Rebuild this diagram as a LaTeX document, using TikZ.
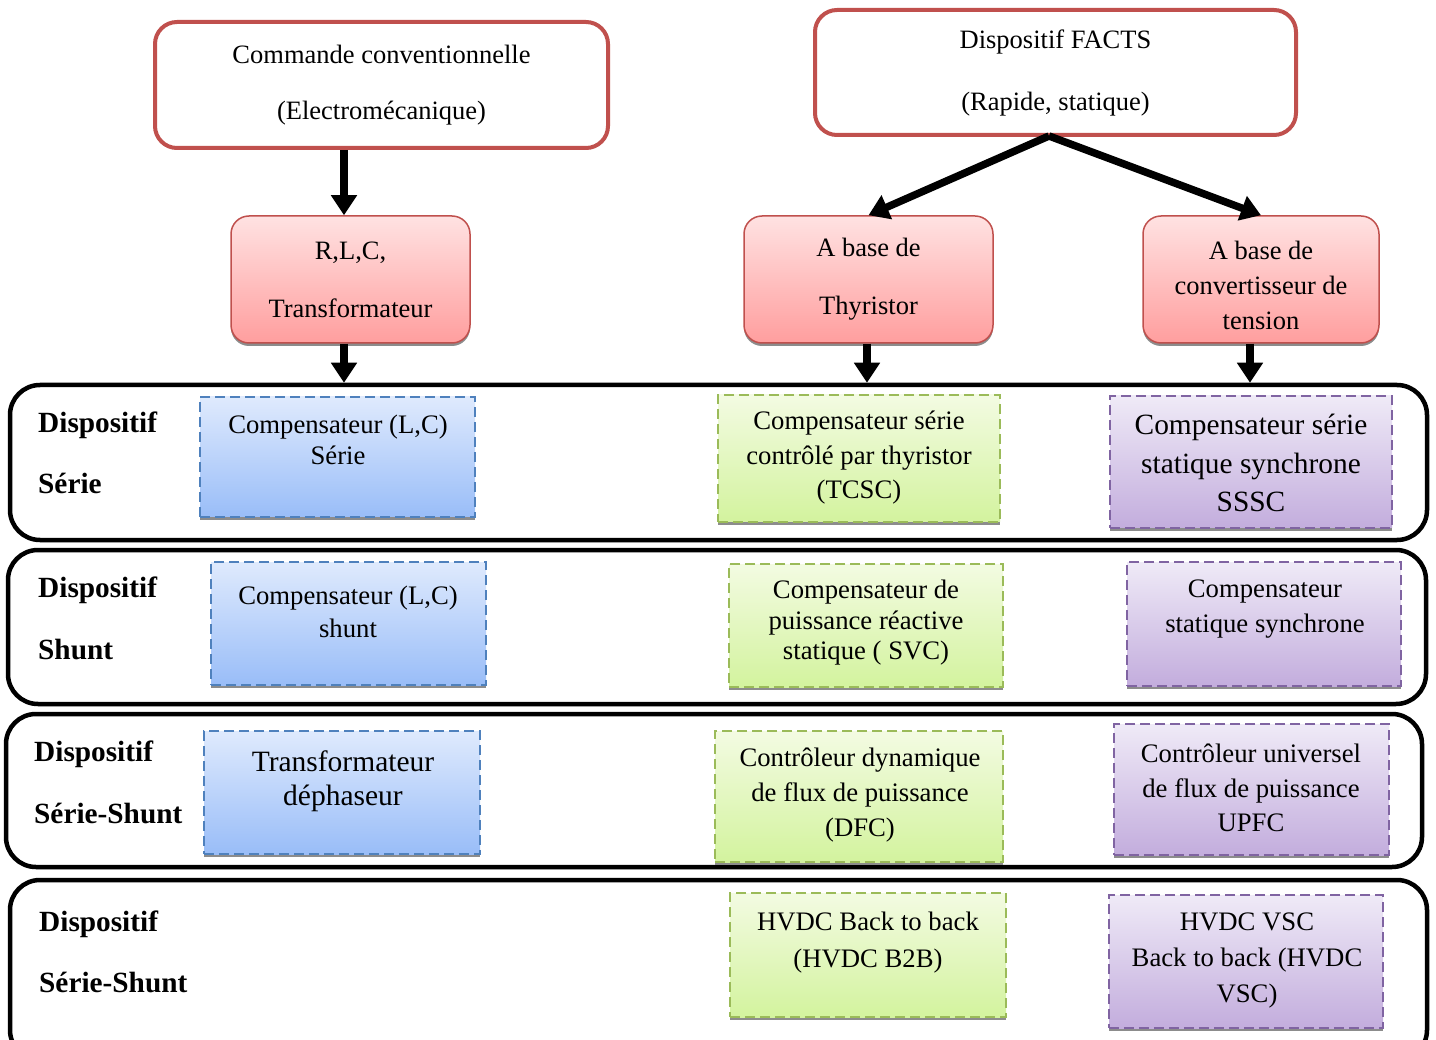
\documentclass[tikz,border=0pt]{standalone}
\usepackage{fontspec}
\setmainfont{Liberation Serif}
\usetikzlibrary{arrows.meta,shadows}

\definecolor{framered}{HTML}{C0504D}
\definecolor{pinktop}{HTML}{FFE2E2}
\definecolor{pinkbot}{HTML}{FF9E9E}
\definecolor{blueline}{HTML}{4F81BD}
\definecolor{bluetop}{HTML}{DFEAFD}
\definecolor{bluebot}{HTML}{99BDF8}
\definecolor{greenline}{HTML}{9BBB59}
\definecolor{greentop}{HTML}{F3FBE2}
\definecolor{greenbot}{HTML}{D3F39E}
\definecolor{purpleline}{HTML}{8064A2}
\definecolor{purpletop}{HTML}{EFEAF7}
\definecolor{purplebot}{HTML}{C3ADDD}

\newcommand{\fsz}[2]{\fontsize{#1}{#2}\selectfont}

\begin{document}
\begin{tikzpicture}[x=1pt,y=-1pt,
  headbox/.style={draw=framered,line width=4pt,rounded corners=22pt,fill=white,
    inner sep=0pt,align=center},
  techbox/.style={draw=framered,line width=1.5pt,rounded corners=18pt,
    top color=pinktop,bottom color=pinkbot,inner sep=0pt,align=center,
    drop shadow={shadow xshift=0pt,shadow yshift=-3pt,fill=black!45,opacity=1}},
  band/.style={draw=black,line width=4.5pt,rounded corners=30pt,fill=white,inner sep=0pt,
    drop shadow={shadow xshift=0pt,shadow yshift=-2pt,fill=black!25,opacity=1}},
  devbox/.style={line width=1.8pt,dash pattern=on 10pt off 5pt,inner sep=0pt,
    drop shadow={shadow xshift=0pt,shadow yshift=-3pt,fill=black!45,opacity=1}},
  bluebox/.style={devbox,draw=blueline,top color=bluetop,bottom color=bluebot},
  greenbox/.style={devbox,draw=greenline,top color=greentop,bottom color=greenbot},
  purplebox/.style={devbox,draw=purpleline,top color=purpletop,bottom color=purplebot},
  devtext/.style={align=center,inner sep=0pt},
  rowlabel/.style={align=left,anchor=west,inner sep=0pt},
  bigarrow/.style={line width=7.5pt,-{Triangle[width=25pt,length=20pt]}}
]
\useasboundingbox (0,0) rectangle (1436,1040);
\clip (0,0) rectangle (1436,1040);
\fill[white] (0,0) rectangle (1436,1040);

% --- top level: the two families of control ---
\node[headbox,minimum width=453pt,minimum height=126pt,font=\fsz{26.5}{56}]
  (cc) at (381.5,85) {Commande conventionnelle\\(Electromécanique)};
\node[headbox,minimum width=481pt,minimum height=125pt,font=\fsz{26.5}{62}]
  (facts) at (1055.5,72.5) {Dispositif FACTS\\(Rapide, statique)};

% --- technologies ---
\node[techbox,minimum width=239pt,minimum height=127pt,font=\fsz{26.5}{58}]
  (rlc) at (350.5,279.5) {R,L,C,\\Transformateur};
\node[techbox,minimum width=249pt,minimum height=127pt,font=\fsz{26.5}{58}]
  (thy) at (868.5,279.5) {A base de\\Thyristor};
\node[techbox,minimum width=236pt,minimum height=127pt] (conv) at (1261,279.5) {};
\node[devtext,font=\fsz{26.5}{35}] (convt) at (1261,285) {A base de\\convertisseur de\\tension};

% --- rows of devices ---
\node[band,minimum width=1417pt,minimum height=155pt] (row1) at (718.5,462.5) {};
\node[band,minimum width=1418pt,minimum height=154pt] (row2) at (717,627) {};
\node[band,minimum width=1416pt,minimum height=153pt] (row3) at (714,790.5) {};
\node[band,minimum width=1417pt,minimum height=180pt] (row4) at (718.5,970) {};

\node[rowlabel,font=\bfseries\fsz{29.3}{61}] (lab1) at (38,452.5) {Dispositif\\Série};
\node[rowlabel,font=\bfseries\fsz{29.3}{62}] (lab2) at (38,618) {Dispositif\\Shunt};
\node[rowlabel,font=\bfseries\fsz{29.3}{62}] (lab3) at (34,782) {Dispositif\\Série-Shunt};
\node[rowlabel,font=\bfseries\fsz{29.3}{61}] (lab4) at (39,951.5) {Dispositif\\Série-Shunt};

% conventional devices
\node[bluebox,minimum width=275pt,minimum height=120pt] (b1) at (337.5,457) {};
\node[devtext,font=\fsz{26.7}{31}] (b1t) at (338,440) {Compensateur (L,C)\\Série};
\node[bluebox,minimum width=275pt,minimum height=123pt] (b2) at (348.5,623.5) {};
\node[devtext,font=\fsz{26.7}{33}] (b2t) at (348,612) {Compensateur (L,C)\\shunt};
\node[bluebox,minimum width=276pt,minimum height=123pt] (b3) at (342,792.5) {};
\node[devtext,font=\fsz{29.5}{34}] (b3t) at (343,781) {Transformateur\\déphaseur};

% thyristor based devices
\node[greenbox,minimum width=282pt,minimum height=127pt] (g1) at (859,458.5) {};
\node[devtext,font=\fsz{26.7}{34.5}] (g1t) at (859,458) {Compensateur série\\contrôlé par thyristor\\(TCSC)};
\node[greenbox,minimum width=274pt,minimum height=123pt] (g2) at (866,625.5) {};
\node[devtext,font=\fsz{26.7}{30.5}] (g2t) at (866,623) {Compensateur de\\puissance réactive\\statique ( SVC)};
\node[greenbox,minimum width=288pt,minimum height=131pt] (g3) at (859,796.5) {};
\node[devtext,font=\fsz{26.7}{35}] (g3t) at (860,795) {Contrôleur dynamique\\de flux de puissance\\(DFC)};
\node[greenbox,minimum width=276pt,minimum height=124pt] (g4) at (868,955) {};
\node[devtext,font=\fsz{26.7}{37}] (g4t) at (868,943) {HVDC Back to back\\(HVDC B2B)};

% voltage source converter based devices
\node[purplebox,minimum width=282pt,minimum height=132pt] (p1) at (1251,462) {};
\node[devtext,font=\fsz{29.4}{38.5}] (p1t) at (1251,463) {Compensateur série\\statique synchrone\\SSSC};
\node[purplebox,minimum width=274pt,minimum height=124pt] (p2) at (1264,624) {};
\node[devtext,font=\fsz{26.7}{35}] (p2t) at (1265,609) {Compensateur\\statique synchrone};
\node[purplebox,minimum width=275pt,minimum height=131pt] (p3) at (1251.5,789.5) {};
\node[devtext,font=\fsz{26.7}{34.5}] (p3t) at (1251,788) {Contrôleur universel\\de flux de puissance\\UPFC};
\node[purplebox,minimum width=274pt,minimum height=133pt] (p4) at (1246,961.5) {};
\node[devtext,font=\fsz{26.7}{36}] (p4t) at (1247,960) {HVDC VSC\\Back to back (HVDC\\VSC)};

% --- connectors ---
\coordinate (xa) at (344,0);
\coordinate (xb) at (867,0);
\coordinate (xc) at (1250,0);
\coordinate (fs) at (1049,136);

\draw[bigarrow] (cc.south -| xa) -- (rlc.north -| xa);
\draw[bigarrow] (fs) -- (thy.north);
\draw[bigarrow] (fs) -- (conv.north);
\draw[bigarrow] (rlc.south -| xa) -- (row1.north -| xa);
\draw[bigarrow] (thy.south -| xb) -- (row1.north -| xb);
\draw[bigarrow] (conv.south -| xc) -- (row1.north -| xc);
\end{tikzpicture}
\end{document}
